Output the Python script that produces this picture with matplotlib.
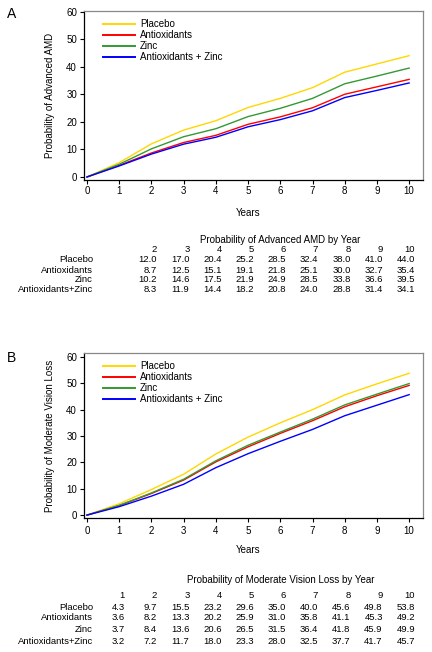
import numpy as np
import matplotlib.pyplot as plt
from matplotlib.transforms import blended_transform_factory

plt.rcParams['font.family'] = ['Liberation Sans', 'DejaVu Sans']

years = [0, 1, 2, 3, 4, 5, 6, 7, 8, 9, 10]
groups = ['Placebo', 'Antioxidants', 'Zinc', 'Antioxidants + Zinc']
table_rows = ['Placebo', 'Antioxidants', 'Zinc', 'Antioxidants+Zinc']
colors = ['#FFD700', '#FF0000', '#339933', '#0000FF']

# Panel A: probability of advanced AMD (year 1)
amd_placebo = [0, 5.2, 12.0, 17.0, 20.4, 25.2, 28.5, 32.4, 38.0, 41.0, 44.0]
amd_antiox = [0, 4.2, 8.7, 12.5, 15.1, 19.1, 21.8, 25.1, 30.0, 32.7, 35.4]
amd_zinc = [0, 4.6, 10.2, 14.6, 17.5, 21.9, 24.9, 28.5, 33.8, 36.6, 39.5]
amd_az = [0, 4.0, 8.3, 11.9, 14.4, 18.2, 20.8, 24.0, 28.8, 31.4, 34.1]
amd_table_years = [2, 3, 4, 5, 6, 7, 8, 9, 10]

# Panel B: probability of moderate vision loss
mvl_placebo = [0, 4.3, 9.7, 15.5, 23.2, 29.6, 35.0, 40.0, 45.6, 49.8, 53.8]
mvl_antiox = [0, 3.6, 8.2, 13.3, 20.2, 25.9, 31.0, 35.8, 41.1, 45.3, 49.2]
mvl_zinc = [0, 3.7, 8.4, 13.6, 20.6, 26.5, 31.5, 36.4, 41.8, 45.9, 49.9]
mvl_az = [0, 3.2, 7.2, 11.7, 18.0, 23.3, 28.0, 32.5, 37.7, 41.7, 45.7]
mvl_table_years = [1, 2, 3, 4, 5, 6, 7, 8, 9, 10]

H = 652.0
def fy(px):
  return 1 - px / H

fig = plt.figure(figsize=(4.32, 6.52), dpi=100)

def panel(rect, ylim, series, ylabel, letter, letter_y,
          table_title, tyears, rows_y, label_x, tick_y, years_y, title_y):
  ax = fig.add_axes(rect)
  for s, c, g in zip(series, colors, groups):
    ax.plot(years, s, color=c, lw=1.0, label=g)
  ax.set_xlim(-0.093, 10.43)
  ax.set_ylim(*ylim)
  ax.set_xticks(range(0, 11))
  ax.set_yticks(range(0, 61, 10))
  ax.set_xticklabels([])
  ax.tick_params(labelsize=7, length=3, width=0.8, pad=2)
  for sp in ['top', 'right']:
    ax.spines[sp].set_color('#888888')
  for sp in ['left', 'bottom']:
    ax.spines[sp].set_color('black')
  for sp in ax.spines.values():
    sp.set_linewidth(0.9)
  ax.set_ylabel(ylabel, fontsize=7)
  ax.yaxis.set_label_coords(-0.085, 0.5)
  leg = ax.legend(loc='upper left', bbox_to_anchor=(0.035, 0.99), frameon=False,
                  fontsize=7, handlelength=3.3, handletextpad=0.55,
                  labelspacing=0.1, borderaxespad=0.3)
  for l in leg.get_lines():
    l.set_linewidth(1.4)
  fig.text(12 / 432, fy(letter_y), letter, fontsize=10, ha='center', va='center')

  tr = blended_transform_factory(ax.transData, fig.transFigure)
  for y in years:
    fig.text(y, fy(tick_y), str(y), transform=tr, fontsize=7, ha='center', va='center')
  fig.text(5, fy(years_y), 'Years', transform=tr, fontsize=7, ha='center', va='center')
  fig.text(6.0, fy(title_y), table_title, transform=tr, fontsize=7,
           ha='center', va='center')
  off = 0.18
  for y in tyears:
    fig.text(y + off, fy(rows_y[0]), str(y), transform=tr, fontsize=6.8,
             ha='right', va='center')
  for name, s, ry in zip(table_rows, series, rows_y[1:]):
    fig.text(label_x, fy(ry), name, transform=tr, fontsize=6.8, ha='right', va='center')
    for y in tyears:
      fig.text(y + off, fy(ry), '%.1f' % s[y], transform=tr, fontsize=6.8,
               ha='right', va='center')
  return ax

panel([84 / 432, fy(180), 339 / 432, 169 / H], (-1.1, 60.2),
      [amd_placebo, amd_antiox, amd_zinc, amd_az],
      'Probability of Advanced AMD', 'A', 14,
      'Probability of Advanced AMD by Year', amd_table_years,
      [250, 260, 270, 280, 290], 0.19, 191, 212.5, 240)

panel([84 / 432, fy(518), 339 / 432, 165 / H], (-1.1, 61.5),
      [mvl_placebo, mvl_antiox, mvl_zinc, mvl_az],
      'Probability of Moderate Vision Loss', 'B', 358,
      'Probability of Moderate Vision Loss by Year', mvl_table_years,
      [595, 607, 618, 630, 641], 0.19, 531.5, 550, 580)

plt.savefig('out.png', dpi=100)
